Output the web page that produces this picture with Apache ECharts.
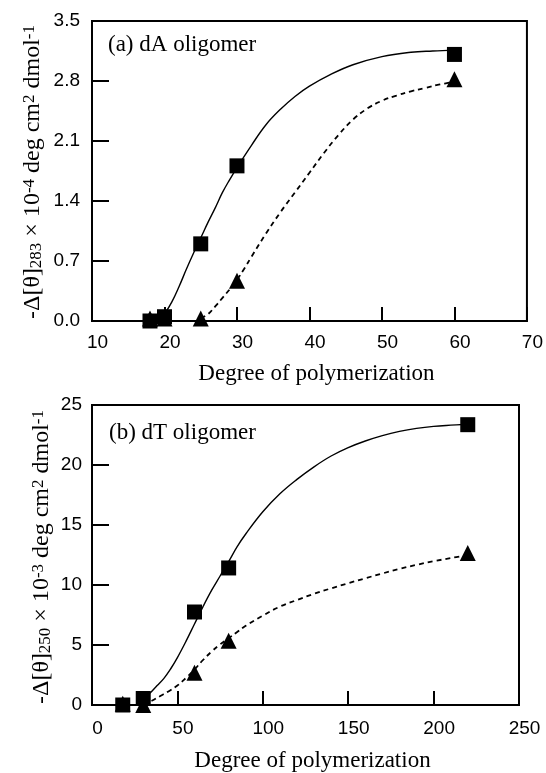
<!DOCTYPE html>
<html>
<head>
<meta charset="utf-8">
<script src="https://cdn.jsdelivr.net/npm/echarts@6/dist/echarts.min.js"></script>
<style>
  html, body { margin: 0; padding: 0; background: #fff; }
  #chart { width: 546px; height: 773px; }
</style>
</head>
<body>
<div id="chart"></div>
<script>
// ---- (a) dA oligomer ----
const dA_len = [18, 20, 25, 30, 60];
const dA_square = [0, 0.05, 0.90, 1.81, 3.11];
const dA_triangle = [0.03, 0.03, 0.03, 0.47, 2.82];
// fitted curves
const dA_solidLen = [20, 21, 22, 23, 24, 25, 26, 27, 28, 29, 30, 32, 34, 36, 38, 40, 43, 46, 50, 54, 57, 60];
const dA_solidVal = [0.08, 0.22, 0.40, 0.60, 0.79, 0.97, 1.15, 1.32, 1.50, 1.65, 1.79, 2.05, 2.29, 2.47, 2.62, 2.74, 2.88, 2.99, 3.085, 3.135, 3.15, 3.16];
const dA_dashLen = [25, 26, 27, 28, 29, 30, 31, 32, 34, 36, 38, 40, 42, 44, 46, 48, 50, 52, 54, 56, 58, 60];
const dA_dashVal = [0.03, 0.08, 0.17, 0.27, 0.37, 0.48, 0.61, 0.75, 1.02, 1.27, 1.50, 1.73, 1.96, 2.17, 2.35, 2.48, 2.57, 2.63, 2.68, 2.72, 2.76, 2.79];

// ---- (b) dT oligomer ----
const dT_len = [18, 30, 60, 80, 220];
const dT_square = [0, 0.54, 7.75, 11.42, 23.36];
const dT_triangle = [0.1, 0, 2.69, 5.35, 12.67];
const dT_solidLen = [30, 34, 38, 42, 46, 50, 55, 60, 65, 70, 75, 80, 85, 90, 100, 110, 120, 130, 140, 150, 160, 170, 180, 190, 200, 210, 220];
const dT_solidVal = [0.5, 1.0, 1.6, 2.2, 3.0, 3.95, 5.3, 6.75, 8.2, 9.55, 10.75, 11.95, 13.2, 14.25, 16.1, 17.6, 18.8, 19.85, 20.75, 21.45, 22.0, 22.45, 22.8, 23.05, 23.22, 23.32, 23.4];
const dT_dashLen = [30, 35, 40, 45, 50, 55, 60, 65, 70, 75, 80, 85, 90, 100, 110, 120, 130, 140, 150, 160, 170, 180, 190, 200, 210, 220];
const dT_dashVal = [0.02, 0.35, 0.75, 1.15, 1.62, 2.25, 2.95, 3.75, 4.45, 5.05, 5.57, 6.08, 6.6, 7.45, 8.2, 8.75, 9.27, 9.72, 10.15, 10.56, 10.96, 11.34, 11.68, 11.98, 12.24, 12.5];

// axis ticks
const dA_xTicks = { min: 10, max: 70, interval: 10 };
const dA_yTicks = { min: 0, max: 3.5, interval: 0.7 };
const dT_xTicks = { min: 0, max: 250, interval: 50 };
const dT_yTicks = { min: 0, max: 25, interval: 5 };

// axis titles
const dA_yTitle = '-Δ[θ]{sub|283} × 10{sup|-4} deg cm{sup|2} dmol{sup|-1}';
const dT_yTitle = '-Δ[θ]{sub|250} × 10{sup|-3} deg cm{sup|2} dmol{sup|-1}';
const xTitle = 'Degree of polymerization';

const SERIF = '"Liberation Serif", "Times New Roman", serif';
const SANS = '"Liberation Sans", Arial, sans-serif';

const zip = (xs, ys) => xs.map((x, i) => [x, ys[i]]);

const supSub = {
  sub: { fontFamily: SERIF, fontSize: 17, fill: '#000', verticalAlign: 'bottom' },
  sup: { fontFamily: SERIF, fontSize: 17, fill: '#000', verticalAlign: 'top' }
};

function xAxis(gridIndex, t, labelMargin, nameGap) {
  return {
    type: 'value', gridIndex, min: t.min, max: t.max, interval: t.interval,
    name: xTitle, nameLocation: 'middle', nameGap,
    nameMoveOverlap: false,
    nameTextStyle: { fontFamily: SERIF, fontSize: 23, color: '#000', padding: [0, 0, 0, 14] },
    axisLine: { show: true, lineStyle: { color: '#000', width: 2 } },
    axisTick: { show: true, inside: true, length: 14, lineStyle: { color: '#000', width: 2 } },
    axisLabel: { fontFamily: SANS, fontSize: 19, color: '#000', margin: labelMargin, padding: [0, 0, 0, 11] },
    splitLine: { show: false }
  };
}

function yAxis(gridIndex, t, labelMargin, fmt) {
  return {
    type: 'value', gridIndex, min: t.min, max: t.max, interval: t.interval,
    axisLine: { show: true, lineStyle: { color: '#000', width: 2 } },
    axisTick: { show: true, inside: true, length: 17, lineStyle: { color: '#000', width: 2 } },
    axisLabel: { fontFamily: SANS, fontSize: 19, color: '#000', margin: labelMargin, formatter: fmt },
    splitLine: { show: false }
  };
}

// rotated y-axis title with sub/superscripts
function yTitle(text, cx, cy) {
  return {
    type: 'text', x: cx, y: cy, rotation: Math.PI / 2,
    style: {
      text, font: '24px ' + SERIF, fill: '#000',
      align: 'center', verticalAlign: 'middle', rich: supSub
    }
  };
}

function panelSeries(idx, len, sq, tri, sLen, sVal, dLen, dVal) {
  return [
    { type: 'line', xAxisIndex: idx, yAxisIndex: idx, data: zip(sLen, sVal), smooth: 0.4,
      showSymbol: false, lineStyle: { color: '#000', width: 1.4 }, z: 2 },
    { type: 'line', xAxisIndex: idx, yAxisIndex: idx, data: zip(dLen, dVal), smooth: 0.4,
      showSymbol: false, lineStyle: { color: '#000', width: 1.8, type: [5, 4] }, z: 2 },
    { type: 'scatter', xAxisIndex: idx, yAxisIndex: idx, data: zip(len, tri), symbol: 'triangle',
      symbolSize: 16, itemStyle: { color: '#000', opacity: 1 }, z: 3 },
    { type: 'scatter', xAxisIndex: idx, yAxisIndex: idx, data: zip(len, sq), symbol: 'rect',
      symbolSize: 15, itemStyle: { color: '#000', opacity: 1 }, z: 4 }
  ];
}

const chart = echarts.init(document.getElementById('chart'), null, { renderer: 'canvas' });
chart.setOption({
  animation: false,
  backgroundColor: '#fff',
  grid: [
    { left: 92, top: 21, width: 435, height: 300, show: true, borderColor: '#000', borderWidth: 2 },
    { left: 92, top: 405, width: 427, height: 301, show: true, borderColor: '#000', borderWidth: 2 }
  ],
  xAxis: [
    xAxis(0, dA_xTicks, 12, 41),
    xAxis(1, dT_xTicks, 14, 44)
  ],
  yAxis: [
    yAxis(0, dA_yTicks, 12, v => v.toFixed(1)),
    yAxis(1, dT_yTicks, 10, v => String(v))
  ],
  graphic: [
    { type: 'text', left: 108, top: 33, style: { text: '(a) dA oligomer', font: '23px ' + SERIF, fill: '#000' } },
    { type: 'text', left: 109, top: 421, style: { text: '(b) dT oligomer', font: '23px ' + SERIF, fill: '#000' } },
    yTitle(dA_yTitle, 33, 172),
    yTitle(dT_yTitle, 42, 557)
  ],
  series: [
    ...panelSeries(0, dA_len, dA_square, dA_triangle, dA_solidLen, dA_solidVal, dA_dashLen, dA_dashVal),
    ...panelSeries(1, dT_len, dT_square, dT_triangle, dT_solidLen, dT_solidVal, dT_dashLen, dT_dashVal)
  ]
});
</script>
</body>
</html>
